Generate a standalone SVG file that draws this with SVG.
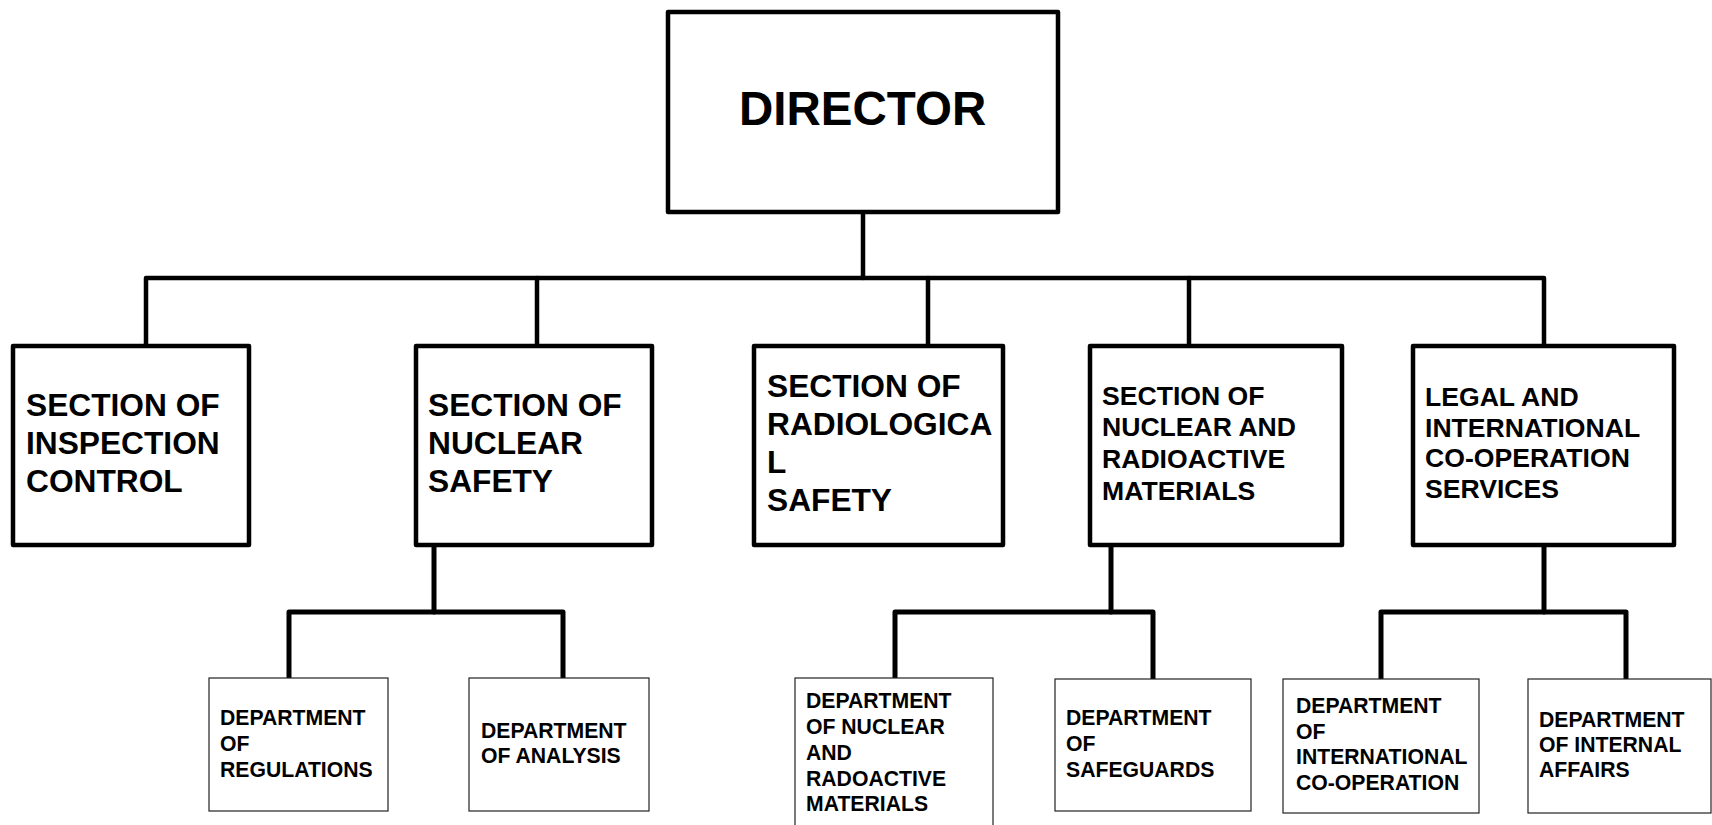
<svg xmlns="http://www.w3.org/2000/svg" width="1712" height="825" viewBox="0 0 1712 825">
  <style>
    .box { fill: #ffffff; stroke: #000000; stroke-width: 4.5; stroke-linejoin: round; }
    .dept { fill: #ffffff; stroke: #222222; stroke-width: 1.2; }
    .wire { fill: none; stroke: #000000; stroke-width: 4.5; stroke-linejoin: round; stroke-linecap: round; }
    .sub { fill: none; stroke: #000000; stroke-width: 5; stroke-linejoin: round; stroke-linecap: round; }
    text { font-family: "Liberation Sans", Arial, sans-serif; font-weight: bold; fill: #000000; }
    .t1 { font-size: 47.5px; }
    .t2 { font-size: 31.7px; }
    .t3 { font-size: 26.6px; }
    .t4 { font-size: 21.2px; }
  </style>
  <rect width="1712" height="825" fill="#ffffff"/>

  <!-- connectors -->
  <g id="connectors">
    <path class="wire" d="M863 212 V278"/>
    <path class="wire" d="M146 346 V278 H1544 V346"/>
    <path class="wire" d="M537 278 V346"/>
    <path class="wire" d="M928 278 V346"/>
    <path class="wire" d="M1189 278 V346"/>
    <path class="sub" d="M434 545 V612"/>
    <path class="sub" d="M289 678 V612 H563 V678"/>
    <path class="sub" d="M1111 545 V612"/>
    <path class="sub" d="M895 678 V612 H1153 V679"/>
    <path class="sub" d="M1544 545 V612"/>
    <path class="sub" d="M1381 679 V612 H1626 V679"/>
  </g>

  <g id="director">
    <rect class="box" x="668" y="12" width="390" height="200"/>
    <text class="t1" x="739" y="125">DIRECTOR</text>
  </g>

  <g id="inspection-control">
    <rect class="box" x="13" y="346" width="236" height="199"/>
    <text class="t2" x="26" y="416">SECTION OF</text>
    <text class="t2" x="26" y="454">INSPECTION</text>
    <text class="t2" x="26" y="492">CONTROL</text>
  </g>

  <g id="nuclear-safety">
    <rect class="box" x="416" y="346" width="236" height="199"/>
    <text class="t2" x="428" y="416">SECTION OF</text>
    <text class="t2" x="428" y="454">NUCLEAR</text>
    <text class="t2" x="428" y="492">SAFETY</text>
  </g>

  <g id="radiological-safety">
    <rect class="box" x="754" y="346" width="249" height="199"/>
    <text class="t2" x="767" y="397">SECTION OF</text>
    <text class="t2" x="767" y="435">RADIOLOGICA</text>
    <text class="t2" x="767" y="473">L</text>
    <text class="t2" x="767" y="511">SAFETY</text>
  </g>

  <g id="nuclear-radioactive-materials">
    <rect class="box" x="1090" y="346" width="252" height="199"/>
    <text class="t3" x="1102" y="405">SECTION OF</text>
    <text class="t3" x="1102" y="436">NUCLEAR AND</text>
    <text class="t3" x="1102" y="468">RADIOACTIVE</text>
    <text class="t3" x="1102" y="500">MATERIALS</text>
  </g>

  <g id="legal-international">
    <rect class="box" x="1413" y="346" width="261" height="199"/>
    <text class="t3" x="1425" y="406">LEGAL AND</text>
    <text class="t3" x="1425" y="437">INTERNATIONAL</text>
    <text class="t3" x="1425" y="467">CO-OPERATION</text>
    <text class="t3" x="1425" y="498">SERVICES</text>
  </g>

  <g id="dept-regulations">
    <rect class="dept" x="209" y="678" width="179" height="133"/>
    <text class="t4" x="220" y="725">DEPARTMENT</text>
    <text class="t4" x="220" y="751">OF</text>
    <text class="t4" x="220" y="777">REGULATIONS</text>
  </g>

  <g id="dept-analysis">
    <rect class="dept" x="469" y="678" width="180" height="133"/>
    <text class="t4" x="481" y="738">DEPARTMENT</text>
    <text class="t4" x="481" y="763">OF ANALYSIS</text>
  </g>

  <g id="dept-nuclear-radioactive">
    <rect class="dept" x="795" y="678" width="198" height="160"/>
    <text class="t4" x="806" y="708">DEPARTMENT</text>
    <text class="t4" x="806" y="734">OF NUCLEAR</text>
    <text class="t4" x="806" y="760">AND</text>
    <text class="t4" x="806" y="786">RADOACTIVE</text>
    <text class="t4" x="806" y="811">MATERIALS</text>
  </g>

  <g id="dept-safeguards">
    <rect class="dept" x="1055" y="679" width="196" height="132"/>
    <text class="t4" x="1066" y="725">DEPARTMENT</text>
    <text class="t4" x="1066" y="751">OF</text>
    <text class="t4" x="1066" y="777">SAFEGUARDS</text>
  </g>

  <g id="dept-international">
    <rect class="dept" x="1283" y="679" width="196" height="134"/>
    <text class="t4" x="1296" y="713">DEPARTMENT</text>
    <text class="t4" x="1296" y="739">OF</text>
    <text class="t4" x="1296" y="764">INTERNATIONAL</text>
    <text class="t4" x="1296" y="790">CO-OPERATION</text>
  </g>

  <g id="dept-internal-affairs">
    <rect class="dept" x="1528" y="679" width="183" height="134"/>
    <text class="t4" x="1539" y="727">DEPARTMENT</text>
    <text class="t4" x="1539" y="752">OF INTERNAL</text>
    <text class="t4" x="1539" y="777">AFFAIRS</text>
  </g>
</svg>
